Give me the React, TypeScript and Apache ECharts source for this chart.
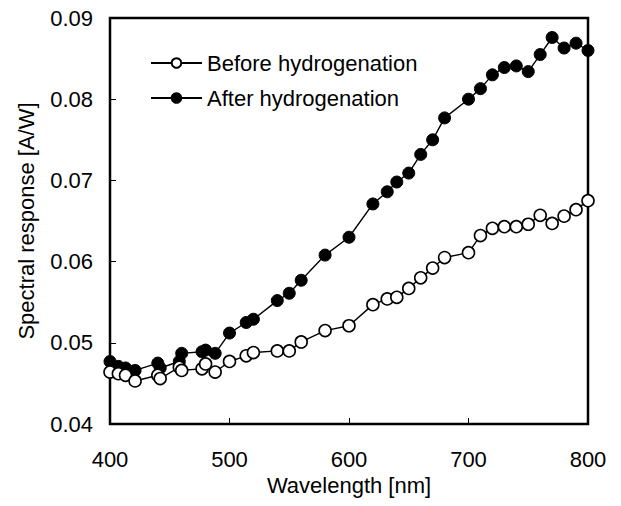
import React, { useEffect, useRef } from "react";
import * as echarts from "echarts";

const wavelengths = [400, 407, 413, 421, 440, 442, 458, 460, 477, 480, 488, 500, 514, 520, 540, 550, 560, 580, 600, 620, 632, 640, 650, 660, 670, 680, 700, 710, 720, 730, 740, 750, 760, 770, 780, 790, 800];
const beforeValues = [0.0464, 0.0462, 0.0460, 0.0453, 0.0460, 0.0456, 0.0470, 0.0466, 0.0468, 0.0474, 0.0464, 0.0477, 0.0484, 0.0488, 0.0490, 0.0490, 0.0501, 0.0515, 0.0521, 0.0547, 0.0554, 0.0556, 0.0567, 0.0580, 0.0592, 0.0605, 0.0611, 0.0632, 0.0641, 0.0643, 0.0643, 0.0646, 0.0657, 0.0647, 0.0656, 0.0664, 0.0675];
const afterValues = [0.0477, 0.0471, 0.0469, 0.0466, 0.0475, 0.0469, 0.0477, 0.0487, 0.0489, 0.0491, 0.0487, 0.0512, 0.0525, 0.0529, 0.0552, 0.0561, 0.0577, 0.0608, 0.0630, 0.0671, 0.0686, 0.0698, 0.0709, 0.0732, 0.0750, 0.0777, 0.0800, 0.0813, 0.0830, 0.0839, 0.0841, 0.0834, 0.0855, 0.0876, 0.0863, 0.0869, 0.0860];
const seriesNames = ["Before hydrogenation", "After hydrogenation"];
const xTitle = "Wavelength [nm]";
const yTitle = "Spectral response [A/W]";

const FONT = "'Liberation Sans', Arial, sans-serif";
const FS = 22;

export default function App() {
  const ref = useRef<HTMLDivElement>(null);
  useEffect(() => {
    if (!ref.current) return;
    const chart = echarts.init(ref.current, undefined, { renderer: "svg" });
    const before = wavelengths.map((w, i) => [w, beforeValues[i]]);
    const after = wavelengths.map((w, i) => [w, afterValues[i]]);
    chart.setOption({
      animation: false,
      backgroundColor: "#fff",
      textStyle: { fontFamily: FONT, color: "#000" },
      grid: {
        left: 110,
        right: 33,
        top: 18,
        bottom: 82,
        show: true,
        borderColor: "#000",
        borderWidth: 2.5,
        backgroundColor: "transparent",
      },
      legend: {
        orient: "vertical",
        left: 150,
        top: 52,
        padding: 0,
        itemGap: 13,
        itemWidth: 51,
        itemHeight: 12,
        data: seriesNames,
        textStyle: { fontFamily: FONT, fontSize: FS, color: "#000" },
      },
      xAxis: {
        type: "value",
        min: 400,
        max: 800,
        interval: 100,
        name: xTitle,
        nameLocation: "middle",
        nameGap: 50,
        nameTextStyle: { fontFamily: FONT, fontSize: FS, color: "#000" },
        axisLine: { show: false },
        axisTick: { show: true, inside: true, length: 6, lineStyle: { color: "#000", width: 1 } },
        axisLabel: { fontFamily: FONT, fontSize: FS, color: "#000", margin: 24 },
        splitLine: { show: false },
      },
      yAxis: {
        type: "value",
        min: 0.04,
        max: 0.09,
        interval: 0.01,
        name: yTitle,
        nameLocation: "middle",
        nameGap: 73,
        nameTextStyle: { fontFamily: FONT, fontSize: FS, color: "#000" },
        axisLine: { show: false },
        axisTick: { show: true, inside: true, length: 6, lineStyle: { color: "#000", width: 1 } },
        axisLabel: {
          fontFamily: FONT,
          fontSize: FS,
          color: "#000",
          margin: 17,
          formatter: (v: number) => v.toFixed(2),
        },
        splitLine: { show: false },
      },
      series: [
        {
          name: seriesNames[0],
          type: "line",
          data: before,
          z: 3,
          symbol: "circle",
          symbolSize: 12,
          lineStyle: { color: "#000", width: 1.4 },
          itemStyle: { color: "#fff", borderColor: "#000", borderWidth: 1.6 },
        },
        {
          name: seriesNames[1],
          type: "line",
          data: after,
          z: 2,
          symbol: "circle",
          symbolSize: 12,
          lineStyle: { color: "#000", width: 1.4 },
          itemStyle: { color: "#000", borderColor: "#000", borderWidth: 1 },
        },
      ],
    });
    return () => chart.dispose();
  }, []);
  return (
    <div
      ref={ref}
      style={{ position: "fixed", left: 0, top: 0, width: 621, height: 506, background: "#fff" }}
    />
  );
}
